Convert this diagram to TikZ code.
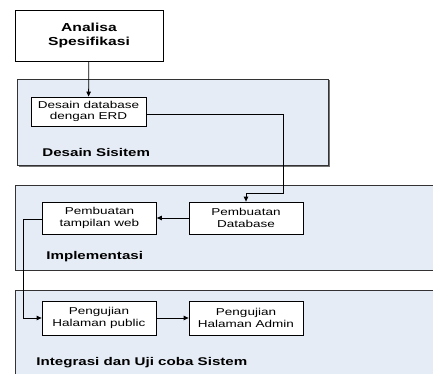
\documentclass[tikz,border=0pt]{standalone}
\usepackage{fontspec}
\setmainfont{Liberation Sans}
\newfontfamily\widefont[FakeStretch=1.35]{Liberation Sans}
\usetikzlibrary{positioning,arrows.meta}
\definecolor{panelfill}{HTML}{E5ECF6}

\begin{document}
\begin{tikzpicture}[x=1pt, y=-1pt, line width=0.8pt, >={Triangle[length=5pt,width=4.5pt]},
                    task node/.style={rectangle,draw,fill=white,align=center,inner sep=0pt,
                                      minimum width=114pt,font=\widefont\fontsize{10}{11.7}\selectfont},
                    phase panel/.style={draw=black!80,fill=panelfill},
                    phase label/.style={anchor=west,inner sep=0pt,font=\widefont\fontsize{11.2}{13}\selectfont\bfseries}]

  \useasboundingbox (0,0) rectangle (433,374);
  \clip (0,0) rectangle (433,374);

  % fases
  \fill[black!55] (18.5,80.5) rectangle (329.5,166.5);
  \path[phase panel] (17,79) rectangle (328,165);
  \path[phase panel] (15,185) rectangle (445,270);
  \path[phase panel] (15,290) rectangle (445,385);

  \node[phase label] (l1) at (42,152) {Desain Sisitem};
  \node[phase label] (l2) at (46,257) {Implementasi};
  \node[phase label] (l3) at (36,363) {Integrasi dan Uji coba Sistem};

  % kotak
  \node[task node,minimum width=148pt,minimum height=51pt,
        font=\widefont\fontsize{11.6}{14}\selectfont\bfseries] (analisa) at (89,35.5) {Analisa\\Spesifikasi};
  \node[task node,minimum width=115pt,minimum height=29pt] (erd) at (88.5,111.5) {Desain database\\dengan ERD};
  \node[task node,minimum height=32pt] (web) at (99.5,218) {Pembuatan\\tampilan web};
  \node[task node,minimum height=32pt] (db) at (246,218) {Pembuatan\\Database};
  \node[task node,minimum height=34pt] (public) at (99,318) {Pengujian\\Halaman public};
  \node[task node,minimum height=34pt] (admin) at (246,318) {Pengujian\\Halaman Admin};

  \coordinate (bend1) at (283,193);
  \coordinate (bend2) at (23,318);

  \draw[->] (analisa) -- (erd);
  \draw[->] ([yshift=-3pt]erd.east) -| (bend1) -| (db.north);
  \draw[->] (db) -- (web);
  \draw[->] ([yshift=-1pt]web.west) -| (bend2) -- (public.west);
  \draw[->] (public) -- (admin);

\end{tikzpicture}
\end{document}
